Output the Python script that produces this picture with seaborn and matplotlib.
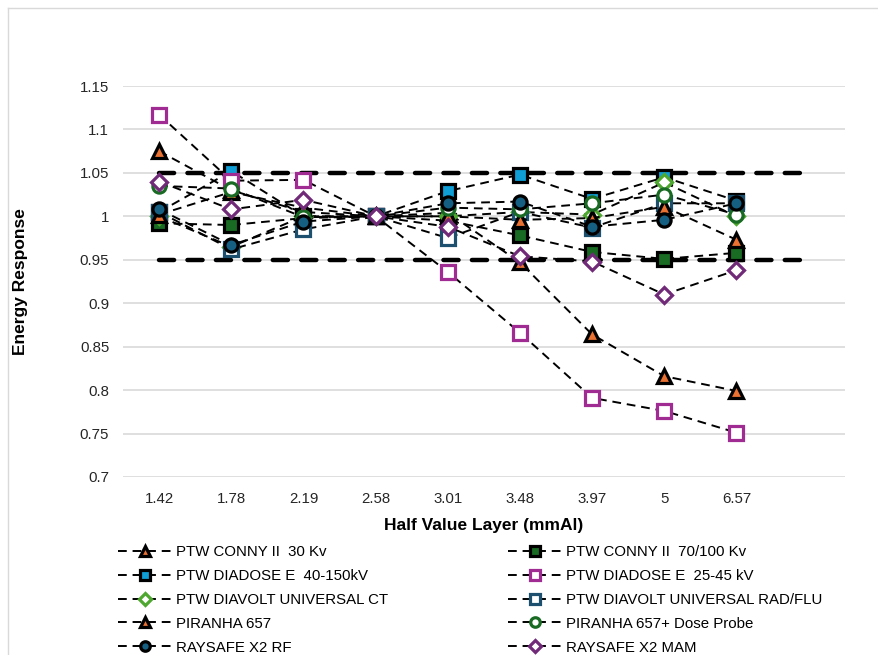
import numpy as np
import matplotlib
matplotlib.use("Agg")
import matplotlib.pyplot as plt
import seaborn as sns
from matplotlib.lines import Line2D

# half value layers (category axis, one empty slot at the end)
hvl = ["1.42", "1.78", "2.19", "2.58", "3.01", "3.48", "3.97", "5", "6.57"]

conny_30 = [1.075, 1.030, 1.005, 1.0, 1.004, 0.947, 0.864, 0.816, 0.799]
conny_70_100 = [0.992, 0.990, 0.998, 1.0, 0.995, 0.978, 0.959, 0.951, 0.958]
diadose_40_150 = [1.005, 1.052, 1.000, 1.0, 1.029, 1.048, 1.020, 1.045, 1.018]
diadose_25_45 = [1.117, 1.041, 1.042, 1.0, 0.936, 0.866, 0.791, 0.776, 0.751]
diavolt_ct = [1.000, 0.965, 1.000, 1.0, 1.000, 1.005, 1.002, 1.039, 1.000]
diavolt_rad_flu = [1.005, 0.962, 0.985, 1.0, 0.975, 1.005, 0.987, 1.015, 1.015]
piranha_657 = [1.002, 1.028, 1.010, 1.0, 1.000, 0.996, 0.998, 1.011, 0.973]
piranha_657_plus = [1.035, 1.032, 0.999, 1.0, 1.010, 1.008, 1.015, 1.025, 1.002]
raysafe_rf = [1.008, 0.967, 0.994, 1.0, 1.015, 1.017, 0.988, 0.996, 1.015]
raysafe_mam = [1.040, 1.008, 1.019, 1.0, 0.988, 0.954, 0.948, 0.910, 0.938]

upper_limit = [1.05] * 10
lower_limit = [0.95] * 10

series = [
    ("PTW CONNY II  30 Kv", conny_30, "^", "#E97132", "black"),
    ("PTW CONNY II  70/100 Kv", conny_70_100, "s", "#196B24", "black"),
    ("PTW DIADOSE E  40-150kV", diadose_40_150, "s", "#0F9ED5", "black"),
    ("PTW DIADOSE E  25-45 kV", diadose_25_45, "s", "white", "#A02B93"),
    ("PTW DIAVOLT UNIVERSAL CT", diavolt_ct, "D", "white", "#4EA72E"),
    ("PTW DIAVOLT UNIVERSAL RAD/FLU", diavolt_rad_flu, "s", "white", "#1D4F6E"),
    ("PIRANHA 657", piranha_657, "^", "#E97132", "black"),
    ("PIRANHA 657+ Dose Probe", piranha_657_plus, "o", "white", "#196B24"),
    ("RAYSAFE X2 RF", raysafe_rf, "o", "#156082", "black"),
    ("RAYSAFE X2 MAM", raysafe_mam, "D", "white", "#702A78"),
]

plt.rcParams["font.family"] = ["Liberation Sans", "DejaVu Sans"]
fig = plt.figure(figsize=(8.79, 6.55), dpi=100)
ax = fig.add_axes([0.140, 0.2718, 0.821, 0.5969])

pos = np.arange(len(hvl))
lim_pos = np.arange(len(upper_limit))

# tolerance lines +-5%
for lim in (upper_limit, lower_limit):
    sns.lineplot(x=lim_pos, y=lim, ax=ax, color="black", linewidth=3.2,
                 linestyle=(0, (3.4, 3.0)), dash_capstyle="round",
                 label="_nolegend_", zorder=2)

for name, vals, mk, face, edge in series:
    ms = 9.5 if mk != "D" else 8.5
    if mk == "^":
        ms = 10
    sns.lineplot(x=pos, y=vals, ax=ax, color="black", linewidth=1.4,
                 linestyle=(0, (4.5, 3.0)), marker=mk, markersize=ms,
                 markerfacecolor=face, markeredgecolor=edge,
                 markeredgewidth=2.3, label=name, zorder=3)

ax.set_xlim(-0.5, 9.5)
ax.set_ylim(0.7, 1.15)
ax.set_xticks(pos)
ax.set_xticklabels(hvl)
yt = np.arange(0.70, 1.151, 0.05)
ax.set_yticks(yt)
ax.set_yticklabels([f"{v:g}" for v in np.round(yt, 2)])
ax.tick_params(axis="both", length=0, labelsize=10.8, colors="#262626")
ax.tick_params(axis="y", pad=10)
ax.tick_params(axis="x", pad=11)
ax.grid(axis="y", color="#D9D9D9", linewidth=1.2)
ax.set_axisbelow(True)
for s in ax.spines.values():
    s.set_visible(False)

ax.set_xlabel("Half Value Layer (mmAl)", fontsize=12.5, fontweight="bold")
ax.set_ylabel("Energy Response", fontsize=12.5, fontweight="bold")
ax.xaxis.set_label_coords(0.5, -0.105)
ax.yaxis.set_label_coords(-0.132, 0.5)

handles, labels = ax.get_legend_handles_labels()
ax.get_legend().remove()
leg_kw = dict(frameon=False, fontsize=10.8, handlelength=3.6,
              handletextpad=0.3, labelspacing=0.66, markerscale=0.72,
              borderaxespad=0, borderpad=0)
left = fig.legend(handles[0::2], labels[0::2], loc="upper left",
                  bbox_to_anchor=(118 / 879, 1 - 545 / 655), **leg_kw)
right = fig.legend(handles[1::2], labels[1::2], loc="upper left",
                   bbox_to_anchor=(508 / 879, 1 - 545 / 655), **leg_kw)

# chart border like the source
fig.add_artist(Line2D([8 / 879, 1], [1 - 8 / 655, 1 - 8 / 655], color="#D9D9D9", linewidth=1))
fig.add_artist(Line2D([8 / 879, 8 / 879], [0, 1 - 8 / 655], color="#D9D9D9", linewidth=1))

fig.savefig("out.png", dpi=100)
